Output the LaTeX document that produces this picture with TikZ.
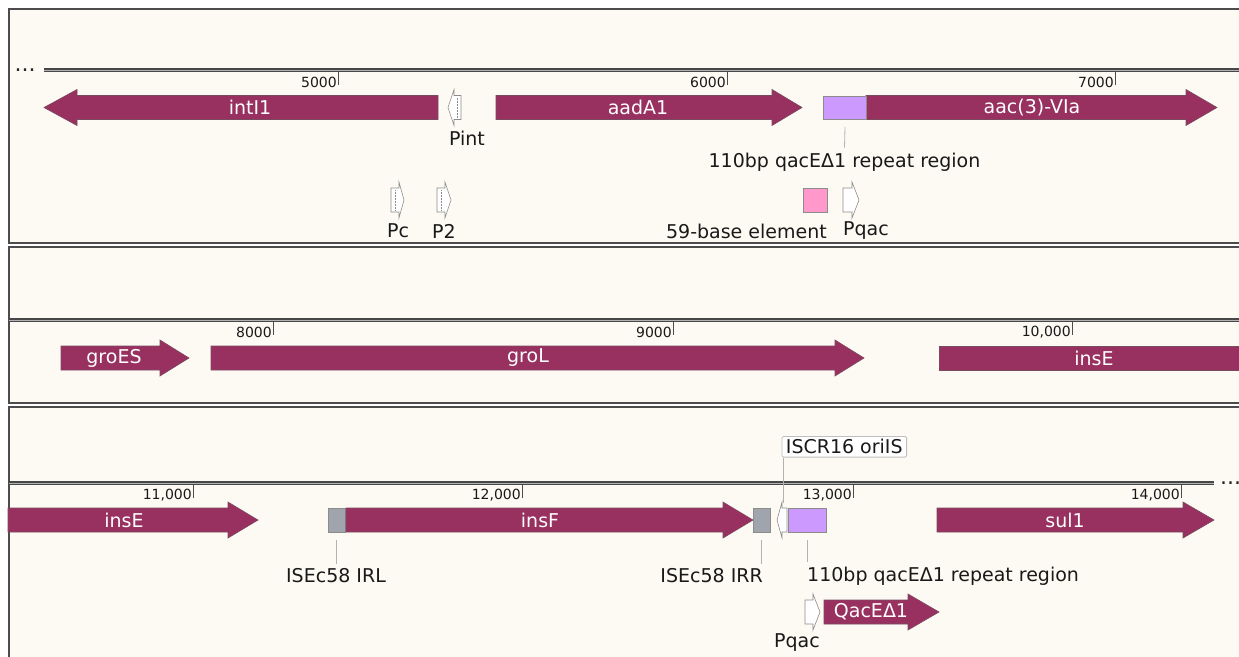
\documentclass[tikz,border=0pt]{standalone}
\usepackage{fontspec}
\setmainfont{DejaVu Sans}
\definecolor{gene}{HTML}{983060}
\definecolor{genedraw}{HTML}{7A4A60}
\definecolor{panelbg}{HTML}{FDFAF3}
\definecolor{repeatc}{HTML}{CC99FF}
\definecolor{pinkc}{HTML}{FF99CC}
\definecolor{irc}{HTML}{A0A4AC}
\tikzset{
  genefeat/.style={fill=gene, draw=genedraw, line width=0.6pt},
  promfeat/.style={fill=white, draw=black!45, line width=0.6pt},
  glab/.style={text=white, font=\fontsize{19}{22}\selectfont, inner sep=0pt},
  flab/.style={text=black!90, font=\fontsize{19}{22}\selectfont, inner sep=0pt},
  tlab/.style={text=black!90, font=\fontsize{14}{16}\selectfont, inner sep=0pt, anchor=east},
  tickl/.style={draw=black!70, line width=0.8pt},
  panel/.style={fill=panelbg, draw=black!70, line width=1.5pt},
  lead/.style={draw=black!30, line width=0.8pt},
  sbox/.style={draw=black!45, line width=0.6pt, inner sep=0pt, outer sep=0pt, minimum height=24pt},
  dotsl/.style={font=\fontsize{22}{24}\selectfont, inner sep=0pt, text=black!85},
}
\newcommand{\feat}[6]{%
  \draw[#6] (#2,#5-12) -- (#3,#5-12) -- (#3,#5-18) -- (#4,#5) -- (#3,#5+18) -- (#3,#5+12) -- (#2,#5+12) -- cycle;
  \coordinate (#1) at ({(#2+#4)/2},#5);}
\newcommand{\promd}[5]{%
  \feat{#1}{#2}{#3}{#4}{#5}{promfeat}
  \draw[black!45, line width=0.5pt, densely dotted] ({(#2+#3)/2},#5-10) -- ({(#2+#3)/2},#5+10);}
\newcommand{\rtick}[4]{%
  \draw[tickl] (#2,#3+2) -- (#2,#3+15);
  \node[tlab] (#1) at (#2-1,#3+12) {#4};}
\newcommand{\ruler}[3]{%
  \draw[line width=4pt, draw=black!72] (#1,#3) -- (#2,#3);
  \draw[line width=1pt, draw=black!30] (#1,#3) -- (#2,#3);}
\begin{document}
\begin{tikzpicture}[x=1pt,y=-1pt]
\useasboundingbox (0,0) rectangle (1239,656);
\fill[white] (0,0) rectangle (1239,656);
\clip (0,0) rectangle (1239,656);
% panels
\draw[panel] (9,9) rectangle (1252,243);
\draw[panel] (9,247) rectangle (1252,403);
\draw[panel] (9,407) rectangle (1252,668);

% ---------- panel 1 ----------
\node[dotsl] (dots1) at (25,70) {...};
\ruler{44}{1250}{70}
\rtick{t5000}{338}{70}{5000}
\rtick{t6000}{727}{70}{6000}
\rtick{t7000}{1115}{70}{7000}

\feat{intI}{438}{77}{44}{107.5}{genefeat}
\node[glab] (intIl) at (250,107.5) {intI1};
\promd{pint}{461}{454}{448}{107.5}
\node[flab] (pintl) at (467,138) {Pint};
\feat{aadA}{496}{772}{802}{107.5}{genefeat}
\node[glab] (aadAl) at (638,107.5) {aadA1};
\feat{aac}{866}{1186}{1217}{107.5}{genefeat}
\node[glab] (aacl) at (1032,107.5) {aac(3)-VIa};
\node[sbox, fill=repeatc, minimum width=43pt, minimum height=23pt] (rep1) at (845,107.5) {};
\node[flab] (rep1l) at (844.5,162) {110bp qacEΔ1 repeat region};
\draw[lead] ([yshift=-8pt]rep1.south) -- ([yshift=5pt]rep1l.north);

\promd{pc}{391}{399}{404}{200}
\node[flab] (pcl) at (398,231) {Pc};
\promd{p2}{437}{445}{451}{200}
\node[flab] (p2l) at (444,231) {P2};
\node[sbox, fill=pinkc, minimum width=24pt] (fiftynine) at (815,200) {};
\node[flab, anchor=east] (fiftyninel) at (827,231) {59-base element};
\feat{pqac1}{843}{852}{859}{200}{promfeat}
\node[flab] (pqac1l) at (866,231) {Pqac};

% ---------- panel 2 ----------
\ruler{9}{1250}{320}
\rtick{t8000}{273}{320}{8000}
\rtick{t9000}{673}{320}{9000}
\rtick{t10000}{1072}{320}{10,000}
\feat{groES}{61}{160}{189}{358}{genefeat}
\node[glab] (groESl) at (114,358) {groES};
\feat{groL}{211}{835}{864}{358}{genefeat}
\node[glab] (groLl) at (528,358) {groL};
\draw[genefeat] (939,346) rectangle (1260,370);
\node[glab] (insE1l) at (1094,358) {insE};

% ---------- panel 3 ----------
\ruler{9}{1214}{483}
\node[dotsl, anchor=west] (dots3) at (1220,483) {...};
\rtick{t11000}{193}{483}{11,000}
\rtick{t12000}{522}{483}{12,000}
\rtick{t13000}{853}{483}{13,000}
\rtick{t14000}{1181}{483}{14,000}

\feat{insE2}{8}{228}{258}{520}{genefeat}
\node[glab] (insE2l) at (124,520) {insE};
\node[sbox, fill=irc, minimum width=17pt] (irl) at (336.5,520) {};
\feat{insF}{346}{723}{753}{520}{genefeat}
\node[glab] (insFl) at (540,520) {insF};
\node[sbox, fill=irc, minimum width=17pt] (irr) at (761.5,520) {};
\feat{oriprom}{787}{782}{777}{520}{promfeat}
\node[sbox, fill=repeatc, minimum width=38pt] (rep3) at (807,520) {};
\feat{sul}{937}{1183}{1214}{520}{genefeat}
\node[glab] (sull) at (1065,520) {sul1};

\node[flab, draw=black!25, line width=0.8pt, fill=white, rounded corners=1.5pt, inner xsep=4pt, inner ysep=3pt, anchor=north west] (iscr) at (781.5,436) {ISCR16 oriIS};
\coordinate (iscrfoot) at (783,503);
\draw[lead] (iscr.south west -| iscrfoot) -- (iscrfoot);

\node[flab] (irll) at (336,576) {ISEc58 IRL};
\draw[lead] ([yshift=-8pt]irl.south) -- ([yshift=5pt]irl.south |- irll.north);
\node[flab, anchor=east] (irrl) at (763,576) {ISEc58 IRR};
\draw[lead] ([yshift=-8pt]irr.south) -- ([yshift=5pt]irr.south |- irrl.north);
\node[flab, anchor=west] (rep3l) at (807,576) {110bp qacEΔ1 repeat region};
\draw[lead] ([yshift=-8pt]rep3.south) -- ([yshift=5pt]rep3.south |- rep3l.north);

\feat{pqac2}{805}{813}{820}{612}{promfeat}
\node[flab] (pqac2l) at (797,643) {Pqac};
\feat{qac}{824}{908}{939}{612}{genefeat}
\node[glab] (qacl) at (871,612) {QacEΔ1};
\end{tikzpicture}
\end{document}
